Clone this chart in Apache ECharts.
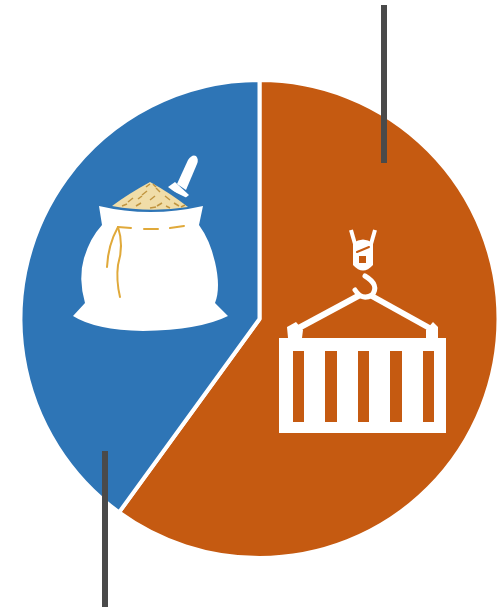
<!DOCTYPE html>
<html><head><meta charset="utf-8">
<style>html,body{margin:0;padding:0;background:#fff}#c{width:502px;height:609px}</style>
<script src="https://cdn.jsdelivr.net/npm/echarts@6/dist/echarts.min.js"></script>
</head><body><div id="c"></div>
<script>
const categories = ['Exports', 'Food'];
const values = [60, 40];
const colors = ['#C55A11', '#2E75B6'];
const W = '#ffffff', O = '#C55A11', B = '#2E75B6', G = '#E0A93A', T = '#F0DDA8', L = '#4a4a4a';
let pathCount = 0;
const path = (d, fill, stroke, lw) => {
  const name = 'iconPath' + (pathCount++);
  echarts.graphic.registerShape(name, echarts.graphic.extendPath(d));
  return {type:name, z:100, silent:true, style:{fill:fill||'none', stroke:stroke||'none', lineWidth:lw||0, lineCap:'round', lineJoin:'round'}};
};
const rect = (x,y,w,h,fill) => ({type:'rect', z:100, silent:true, shape:{x,y,width:w,height:h}, style:{fill}});
const line = (a,b,c,d,col,lw) => ({type:'line', z:100, silent:true, shape:{x1:a,y1:b,x2:c,y2:d}, style:{stroke:col,lineWidth:lw}});
const grains = [[128,202,133,198],[136,206,141,203],[142,195,147,191],[150,200,155,196],[157,206,162,203],[146,187,150,184],[156,188,160,192],[165,196,170,200],[174,203,179,206],[122,206,127,204],[150,208,156,207],[138,199,142,196],[166,206,170,208],[153,184,156,187],[181,207,185,205]];
const graphics = [
  // bag
  path('M177 184 L188 160 Q192 154 196 156 Q199 159 197 164 L186 190 Z', W),
  path('M168 187 L175 182 L189 195 L184 199 Z', W),
  path('M99 206 Q150 218 203 206 L199 225 Q210 240 215 262 Q221 288 215 303 L228 316 Q200 330 143 331 Q95 330 73 316 L85 303 Q78 278 84 258 Q90 238 102 225 Z', W),
  path('M106 205 L120 198 L150 180 L185 197 L198 204 Q150 214 106 205 Z', B),
  path('M112 206 Q128 194 150 182 Q170 193 188 207 Q150 213 112 206 Z', T),
  path('M118 227 Q108 245 107 267', null, G, 2),
  path('M118 227 Q124 245 118 265 Q116 280 120 297', null, G, 2),
  path('M118 227 L131 228 M144 229 L158 229 M170 228 L184 226', null, G, 2),
  // container
  rect(279,338,167,95,W),
  rect(293,351,11,71,O), rect(325,351,12,71,O), rect(358,351,11,71,O), rect(390,351,12,71,O), rect(423,351,11,71,O),
  path('M287 327 L296 322 L303 330 L302 338 L288 338 Z', W),
  path('M426 338 L426 330 L433 322 L438 327 L438 338 Z', W),
  line(295,330,360,295,W,6), line(370,295,433,330,W,6),
  line(351,230,355,244,W,4), line(375,230,371,244,W,4),
  path('M353 243 Q363 236 373 243 L373 265 Q363 276 353 265 Z', W),
  path('M357 252 L369 247', null, O, 2),
  rect(359,256,7,7,O),
  path('M365 276 Q380 285 372 295 Q362 301 355 290', null, W, 5),
  // leader lines
  line(384,5,384,163,L,6),
  line(105,451,105,607,L,6)
];
grains.forEach(g => graphics.splice(5, 0, line(g[0],g[1],g[2],g[3],'#C09540',1.5)));
echarts.init(document.getElementById('c'), null, {renderer:'canvas'}).setOption({
  animation:false,
  backgroundColor:'#fff',
  series:[{
    type:'pie', center:[259.5,319], radius:[0,239], startAngle:90, clockwise:true,
    label:{show:false}, labelLine:{show:false}, silent:true,
    itemStyle:{borderColor:'#fff', borderWidth:4},
    data:categories.map((n,i)=>({name:n,value:values[i],itemStyle:{color:colors[i]}}))
  }],
  graphic:{elements:graphics}
});
</script></body></html>
